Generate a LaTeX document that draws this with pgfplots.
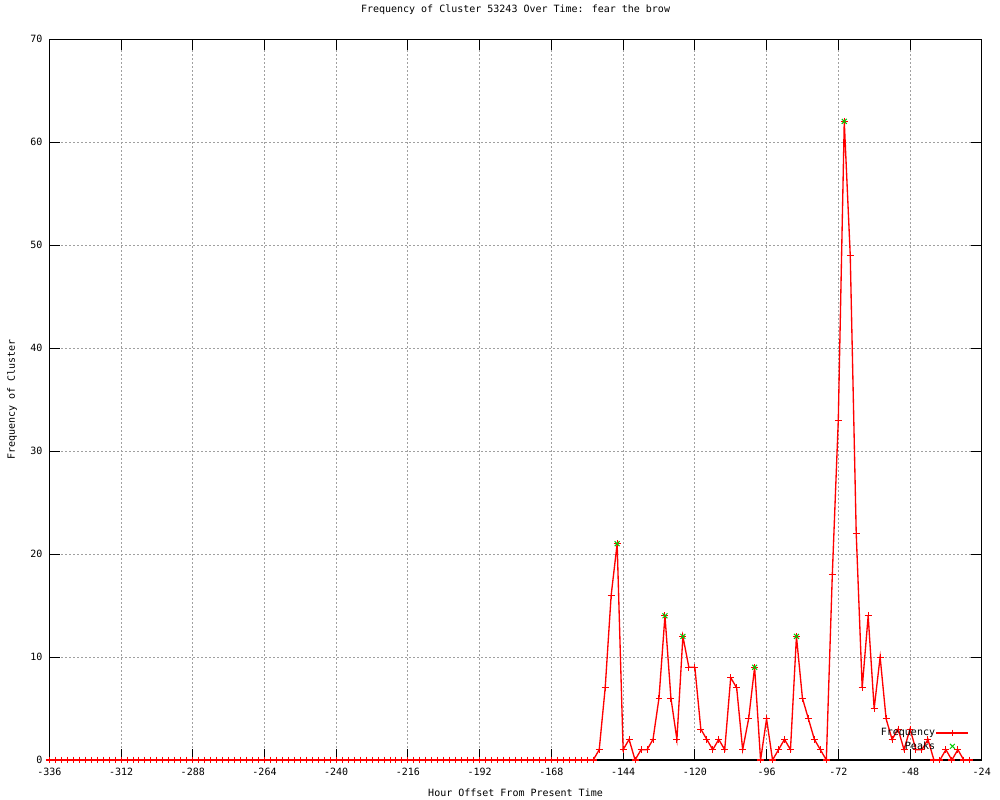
\documentclass[border=0pt]{standalone}
\usepackage{fontspec}
\setmainfont{DejaVu Sans Mono}
\usepackage{pgfplots}
\usepackage{pgfplotstable}
\pgfplotsset{compat=1.18}

\definecolor{peakgreen}{RGB}{0,200,0}
\definecolor{gridgray}{RGB}{160,160,160}

% hourly counts, every 2 hours
\pgfplotstableread{
hour freq
-336 0
-334 0
-332 0
-330 0
-328 0
-326 0
-324 0
-322 0
-320 0
-318 0
-316 0
-314 0
-312 0
-310 0
-308 0
-306 0
-304 0
-302 0
-300 0
-298 0
-296 0
-294 0
-292 0
-290 0
-288 0
-286 0
-284 0
-282 0
-280 0
-278 0
-276 0
-274 0
-272 0
-270 0
-268 0
-266 0
-264 0
-262 0
-260 0
-258 0
-256 0
-254 0
-252 0
-250 0
-248 0
-246 0
-244 0
-242 0
-240 0
-238 0
-236 0
-234 0
-232 0
-230 0
-228 0
-226 0
-224 0
-222 0
-220 0
-218 0
-216 0
-214 0
-212 0
-210 0
-208 0
-206 0
-204 0
-202 0
-200 0
-198 0
-196 0
-194 0
-192 0
-190 0
-188 0
-186 0
-184 0
-182 0
-180 0
-178 0
-176 0
-174 0
-172 0
-170 0
-168 0
-166 0
-164 0
-162 0
-160 0
-158 0
-156 0
-154 0
-152 1
-150 7
-148 16
-146 21
-144 1
-142 2
-140 0
-138 1
-136 1
-134 2
-132 6
-130 14
-128 6
-126 2
-124 12
-122 9
-120 9
-118 3
-116 2
-114 1
-112 2
-110 1
-108 8
-106 7
-104 1
-102 4
-100 9
-98 0
-96 4
-94 0
-92 1
-90 2
-88 1
-86 12
-84 6
-82 4
-80 2
-78 1
-76 0
-74 18
-72 33
-70 62
-68 49
-66 22
-64 7
-62 14
-60 5
-58 10
-56 4
-54 2
-52 3
-50 1
-48 3
-46 1
-44 1
-42 2
-40 0
-38 0
-36 1
-34 0
-32 1
-30 0
-28 0
}\freqdata

\pgfplotstableread{
hour freq
-146 21
-130 14
-124 12
-100 9
-86 12
-70 62
}\peakdata

\begin{document}
\fontsize{7.5}{9}\selectfont
\begin{tikzpicture}
\useasboundingbox (-37pt,-30pt) rectangle (713pt,570pt);
\begin{axis}[
    scale only axis,
    width=699.3pt, height=540.75pt,
    xmin=-336, xmax=-24,
    ymin=0, ymax=70,
    xtick={-336,-312,...,-24},
    ytick={0,10,...,70},
    tick pos=both,
    tick align=inside,
    major tick length=8pt,
    axis line style={line width=0.75pt},
    every tick/.style={black, line width=0.75pt},
    /pgf/number format/assume math mode=true,
    xticklabel style={yshift=-3.5pt},
    yticklabel style={xshift=-2.5pt},
    grid=major,
    major grid style={gridgray, line width=0.75pt, dash pattern=on 1.5pt off 1.5pt},
    title={Frequency of Cluster 53243 Over Time: fear the brow},
    title style={at={(axis description cs:0.5,1.0291)}, anchor=center},
    xlabel={Hour Offset From Present Time},
    x label style={at={(axis description cs:0.5,-0.0458)}, anchor=center},
    ylabel={Frequency of Cluster},
    y label style={at={(axis description cs:-0.04,0.5)}, anchor=center},
    legend plot pos=right,
    legend cell align=right,
    legend image code/.code={\draw[mark repeat=2,mark phase=2] plot coordinates {(0pt,0pt)(12pt,0pt)(24pt,0pt)};},
    legend style={at={(0.9867,0.0282)}, anchor=east, draw=none, fill=none,
        inner sep=0pt, row sep=0pt,
        nodes={inner sep=0.5pt, text height=6.5pt, text depth=2.5pt, xshift=-3.75pt}},
]
\addplot[red, line width=1pt, mark=+, mark size=2.6pt, mark options={line width=0.75pt}]
    table[x=hour, y=freq] {\freqdata};
\addlegendentry{Frequency}
\addplot[peakgreen, only marks, mark=x, mark size=2.6pt, mark options={line width=0.75pt}]
    table[x=hour, y=freq] {\peakdata};
\addlegendentry{Peaks}
% bottom frame line drawn again over the zero values
\draw[black, line width=0.75pt] (rel axis cs:0,0) -- (rel axis cs:1,0);
\end{axis}
\end{tikzpicture}
\end{document}
